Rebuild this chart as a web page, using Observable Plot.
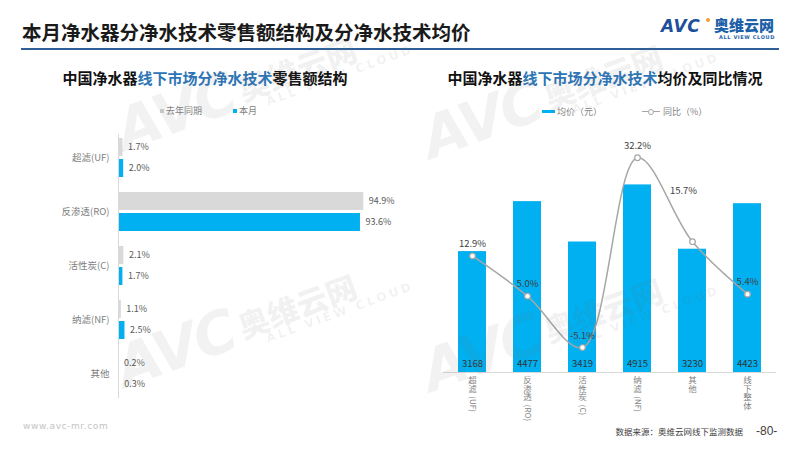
<!DOCTYPE html>
<html><head><meta charset="utf-8">
<script src="https://cdn.jsdelivr.net/npm/d3@7"></script>
<script src="https://cdn.jsdelivr.net/npm/@observablehq/plot@0.6"></script>
<style>
body{margin:0;background:#fff;font-family:"Noto Sans CJK SC","Noto Sans",sans-serif;}
#root{position:relative;width:800px;height:450px;overflow:hidden;background:#fff;}
.abs{position:absolute;white-space:nowrap;line-height:1;}
.wm{position:absolute;transform-origin:0 0;transform:rotate(-20deg);color:rgba(110,110,110,0.09);pointer-events:none;white-space:nowrap;line-height:1;}
.wm .avc{position:absolute;left:-128px;top:-30px;font:italic 900 58px "DejaVu Sans",sans-serif;letter-spacing:-2px;}
.wm .cn{position:absolute;left:0;top:-18px;font:900 31px "Noto Sans CJK SC",sans-serif;}
.wm .en{position:absolute;left:22px;top:19px;font:700 12px "DejaVu Sans",sans-serif;letter-spacing:3px;}
</style></head><body><div id="root"></div>
<script>
// ---- data ----
const leftCats = ["超滤(UF)", "反渗透(RO)", "活性炭(C)", "纳滤(NF)", "其他"];
const lastYear = [1.7, 94.9, 2.1, 1.1, 0.2];
const thisMonth = [2.0, 93.6, 1.7, 2.5, 0.3];
const rightCats = ["超滤(UF)", "反渗透(RO)", "活性炭(C)", "纳滤(NF)", "其他", "线下整体"];
const avgPrice = [3168, 4477, 3419, 4915, 3230, 4423];
const yoy = [12.9, 5.0, -5.1, 32.2, 15.7, 5.4];
const seriesNames = ["去年同期", "本月"];
const rightSeries = ["均价（元）", "同比（%）"];

const root = document.getElementById("root");
const FONT = '"Noto Sans CJK SC","Noto Sans",sans-serif';
function addDiv(html, css){ const d=document.createElement("div"); d.className="abs"; d.innerHTML=html; Object.assign(d.style, css); root.appendChild(d); return d; }

// ---- header ----
addDiv("本月净水器分净水技术零售额结构及分净水技术均价", {left:"22px", top:"22px", fontSize:"19.5px", fontWeight:"700", color:"#1a1a1a"});
addDiv("", {left:"21px", top:"48px", width:"758px", height:"2px", background:"#2f5f98"});
addDiv("AVC", {left:"661px", top:"16px", font:'italic 900 17px "DejaVu Sans",sans-serif', color:"#1d4f9a", letterSpacing:"0.5px"});
addDiv("", {left:"706px", top:"18px", width:"4px", height:"4px", borderRadius:"2px", background:"#f0a030"});
addDiv("奥维云网", {left:"714px", top:"17px", fontSize:"15px", fontWeight:"900", color:"#1d5fa8"});
addDiv("ALL VIEW CLOUD", {left:"719px", top:"34px", font:'700 5px "DejaVu Sans",sans-serif', color:"#1d5fa8", letterSpacing:"0.6px"});

// ---- subtitles ----
const blue = "#2e75b6";
function subtitle(x, pre, mid, post){
  addDiv(`<span>${pre}</span><span style="color:${blue}">${mid}</span><span>${post}</span>`,
    {left:x+"px", top:"77px", transform:"translate(-50%,-50%)", fontSize:"15px", fontWeight:"700", color:"#111"});
}
subtitle(205, "中国净水器", "线下市场分净水技术", "零售额结构");
subtitle(605, "中国净水器", "线下市场分净水技术", "均价及同比情况");

// ---- left legend ----
const legCss = {fontSize:"9px", color:"#7f7f7f"};
addDiv("", {left:"160px", top:"109px", width:"4px", height:"4px", background:"#d0d0d0"});
addDiv(seriesNames[0], Object.assign({left:"166px", top:"106px"}, legCss));
addDiv("", {left:"233px", top:"109px", width:"4px", height:"4px", background:"#00b0f0"});
addDiv(seriesNames[1], Object.assign({left:"239px", top:"106px"}, legCss));

// ---- right legend ----
addDiv("", {left:"542px", top:"110px", width:"13px", height:"3px", background:"#00b0f0"});
addDiv(rightSeries[0], Object.assign({left:"557px", top:"107px"}, legCss));
addDiv("", {left:"642px", top:"111px", width:"18px", height:"1px", background:"#a6a6a6"});
addDiv("", {left:"648px", top:"108.5px", width:"4px", height:"4px", borderRadius:"3px", background:"#fff", border:"1px solid #a6a6a6"});
addDiv(rightSeries[1], Object.assign({left:"663px", top:"107px"}, legCss));

// ---- left chart ----
const leftData = leftCats.map((c, i) => ({cat: c, last: lastYear[i], cur: thisMonth[i]}));
const left = Plot.plot({
  width: 400, height: 278, marginLeft: 118, marginRight: 23.5, marginTop: 9, marginBottom: 5,
  style: {fontFamily: FONT, background: "transparent"},
  x: {domain: [0, 100], axis: null},
  y: {domain: leftCats, paddingInner: 0.27, paddingOuter: 0.04, axis: null},
  marks: [
    Plot.barX(leftData, {x: "last", y: "cat", fill: "#d9d9d9", insetBottom: 21}),
    Plot.barX(leftData, {x: "cur", y: "cat", fill: "#00b0f0", insetTop: 21}),
    Plot.ruleX([0], {stroke: "#d9d9d9", strokeWidth: 1}),
    Plot.text(leftData, {x: "last", y: "cat", text: d => d.last.toFixed(1) + "%", dy: -10.5, dx: 5, textAnchor: "start", fill: "#595959", fontSize: 9}),
    Plot.text(leftData, {x: "cur", y: "cat", text: d => d.cur.toFixed(1) + "%", dy: 10.5, dx: 5, textAnchor: "start", fill: "#595959", fontSize: 9}),
    Plot.text(leftData, {x: 0, y: "cat", text: "cat", dx: -9, textAnchor: "end", fill: "#7f7f7f", fontSize: 9.5})
  ]
});
left.style.position = "absolute"; left.style.left = "0px"; left.style.top = "125px";
root.appendChild(left);

// ---- right chart ----
const priceMax = 6000;
const pctDomain = [-10, 35]; // secondary axis range for 同比, aligned to [0, priceMax]
const toY = v => (v - pctDomain[0]) / (pctDomain[1] - pctDomain[0]) * priceMax;
const rightData = rightCats.map((c, i) => {
  const k = c.indexOf("(");
  const cjk = k < 0 ? c : c.slice(0, k);
  const latin = k < 0 ? "" : c.slice(k);
  return {cat: c, price: avgPrice[i], yoy: yoy[i], cjk, latin, n: cjk.length};
});
const LH = 8.4, FS = 8.5, TOP = 5;
const latinMarks = [...new Set(rightData.filter(d => d.latin).map(d => d.n))].map(n =>
  Plot.text(rightData.filter(d => d.latin && d.n === n), {x: "cat", y: 0, text: "latin", rotate: 90, textAnchor: "start", lineAnchor: "middle", dy: TOP + n * LH + 2, fill: "#7f7f7f", fontSize: 8})
);
const right = Plot.plot({
  width: 400, height: 300, marginLeft: 43, marginRight: 24, marginTop: 13, marginBottom: 58,
  style: {fontFamily: FONT, background: "transparent"},
  x: {domain: rightCats, paddingInner: 0.49, paddingOuter: 0.25, axis: null},
  y: {domain: [0, priceMax], axis: null},
  marks: [
    Plot.barY(rightData, {x: "cat", y: "price", fill: "#00b0f0"}),
    Plot.ruleY([0], {stroke: "#d9d9d9", strokeWidth: 1}),
    Plot.text(rightData, {x: "cat", y: 0, text: d => String(d.price), dy: -9, fill: "#333", fontSize: 9.5}),
    Plot.line(rightData, {x: "cat", y: d => toY(d.yoy), curve: "catmull-rom", stroke: "#a6a6a6", strokeWidth: 1.5}),
    Plot.dot(rightData, {x: "cat", y: d => toY(d.yoy), r: 2.8, fill: "#fff", stroke: "#a6a6a6", strokeWidth: 1.2}),
    Plot.text(rightData.filter(d => d.cat !== "其他"), {x: "cat", y: d => toY(d.yoy), text: d => d.yoy.toFixed(1) + "%", dy: -12, fill: "#404040", fontSize: 9.5}),
    Plot.text(rightData.filter(d => d.cat === "其他"), {x: "cat", y: d => toY(d.yoy), text: d => d.yoy.toFixed(1) + "%", dx: -9, dy: -51, fill: "#404040", fontSize: 9.5}),
    Plot.text(rightData, {x: "cat", y: 0, text: d => d.cjk.split("").join("\n"), lineAnchor: "top", lineHeight: LH / FS, dy: TOP, fill: "#7f7f7f", fontSize: FS}),
    ...latinMarks
  ]
});
right.style.position = "absolute"; right.style.left = "400px"; right.style.top = "130px";
root.appendChild(right);

// ---- footer ----
addDiv("数据来源：奥维云网线下监测数据", {left:"743px", top:"431px", transform:"translate(-100%,-50%)", fontSize:"8.5px", color:"#404040"});
addDiv("-80-", {left:"756px", top:"431px", transform:"translateY(-50%)", font:'12px "Liberation Sans",sans-serif', color:"#404040"});
addDiv("www.avc-mr.com", {left:"23px", top:"426px", transform:"translateY(-50%)", font:'9px "DejaVu Sans",sans-serif', color:"#c4c4c4", letterSpacing:"0.6px"});

// ---- watermarks ----
[[237, 85], [543, 93], [237, 322], [543, 326]].forEach(([x, y]) => {
  const w = document.createElement("div");
  w.className = "wm"; w.style.left = x + "px"; w.style.top = y + "px";
  w.innerHTML = '<span class="avc">AVC</span><span class="cn">奥维云网</span><span class="en">ALL VIEW CLOUD</span>';
  root.appendChild(w);
});
</script></body></html>
